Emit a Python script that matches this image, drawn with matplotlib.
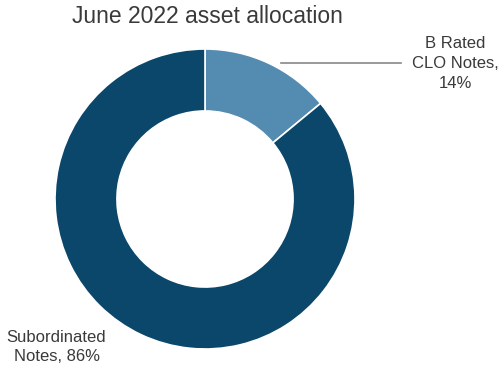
import matplotlib
matplotlib.use("Agg")
import matplotlib.pyplot as plt

labels = ["B Rated\nCLO Notes,\n14%", "Subordinated\nNotes, 86%"]
values = [14, 86]
colors = ["#538bb1", "#0b476b"]
title = "June 2022 asset allocation"

plt.rcParams["font.family"] = ["Liberation Sans", "DejaVu Sans"]

fig = plt.figure(figsize=(5.0, 3.69), dpi=100)
ax = fig.add_axes([0.11, 0.0542, 0.6, 0.813])
wedges, _ = ax.pie(values, colors=colors, startangle=90, counterclock=False,
                   radius=1.0, wedgeprops=dict(width=0.413, edgecolor="white", linewidth=1.2))
ax.set_xlim(-1, 1)
ax.set_ylim(-1, 1)
ax.set_aspect("equal")
ax.axis("off")

# leader line for the small slice
ax.plot([0.51, 1.31], [0.905, 0.905], color="#888888", lw=1.2, zorder=0, clip_on=False)

ax.text(1.667, 0.905, labels[0], ha="center", va="center", fontsize=12,
        color="#3a3a3a", linespacing=1.42)
ax.text(-0.99, -0.987, labels[1], ha="center", va="center", fontsize=12,
        color="#3a3a3a", linespacing=1.35)

fig.text(0.414, 0.955, title, ha="center", va="center", fontsize=16.5, color="#3a3a3a")

fig.savefig("out.png", dpi=100)
